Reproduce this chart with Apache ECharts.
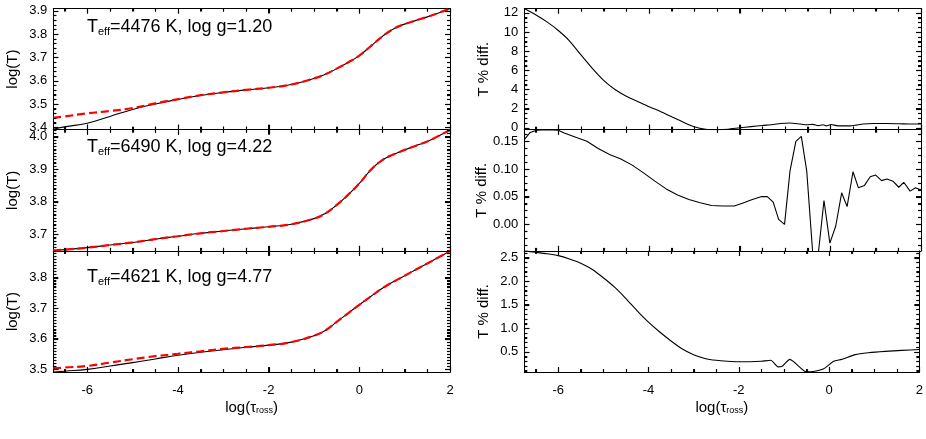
<!DOCTYPE html>
<html>
<head>
<meta charset="utf-8">
<script src="https://cdn.jsdelivr.net/npm/echarts@6/dist/echarts.min.js"></script>
<style>
  html, body { margin: 0; padding: 0; background: #fff; }
  #chart { width: 926px; height: 439px; }
</style>
</head>
<body>
<div id="chart"></div>
<script>
// log(tau_ross) grid for the left-hand log(T) panels
const tauGrid = [-6.75, -6.5, -6, -5.5, -5, -4.5, -4, -3.5, -3, -2.5, -2, -1.5, -1,
  -0.75, -0.5, -0.25, 0, 0.25, 0.5, 0.75, 1, 1.25, 1.5, 1.75, 2];

// panel 1: Teff 4476, log g 1.20
const logT1 = [3.392, 3.402, 3.418, 3.447, 3.477, 3.500, 3.520, 3.537, 3.550, 3.561, 3.570, 3.584, 3.610,
  3.628, 3.652, 3.678, 3.708, 3.748, 3.789, 3.822, 3.843, 3.859, 3.874, 3.891, 3.910];
const logT1ref = [3.441, 3.447, 3.460, 3.470, 3.483, 3.503, 3.521, 3.538, 3.550, 3.561, 3.570, 3.584, 3.610,
  3.628, 3.652, 3.678, 3.708, 3.748, 3.789, 3.822, 3.843, 3.859, 3.874, 3.891, 3.910];

// panel 2: Teff 6490, log g 4.22
const logT2 = [3.650, 3.653, 3.659, 3.667, 3.675, 3.685, 3.694, 3.703, 3.710, 3.717, 3.723, 3.731, 3.748,
  3.764, 3.790, 3.821, 3.856, 3.897, 3.927, 3.945, 3.959, 3.972, 3.985, 4.002, 4.020];
const logT2ref = [3.650, 3.653, 3.659, 3.667, 3.675, 3.685, 3.694, 3.703, 3.710, 3.717, 3.723, 3.731, 3.748,
  3.764, 3.790, 3.821, 3.856, 3.897, 3.927, 3.945, 3.959, 3.972, 3.985, 4.002, 4.020];

// panel 3: Teff 4621, log g 4.77
const logT3 = [3.491, 3.494, 3.500, 3.511, 3.522, 3.534, 3.546, 3.556, 3.564, 3.572, 3.579, 3.589, 3.610,
  3.627, 3.655, 3.683, 3.711, 3.738, 3.764, 3.786, 3.806, 3.826, 3.846, 3.866, 3.887];
const logT3ref = [3.503, 3.506, 3.511, 3.522, 3.533, 3.543, 3.551, 3.559, 3.567, 3.573, 3.579, 3.589, 3.610,
  3.627, 3.655, 3.683, 3.711, 3.738, 3.764, 3.786, 3.806, 3.826, 3.846, 3.866, 3.887];

// right-hand panels: T % diff.
const tauD1 = [-6.75, -6.5, -6.25, -6, -5.75, -5.5, -5.25, -5, -4.75, -4.5, -4.25, -4, -3.75, -3.5, -3.25,
  -3, -2.75, -2.5, -2.25, -2, -1.75, -1.5, -1.25, -1.1, -0.89, -0.67, -0.52, -0.38, -0.27, -0.16, -0.09,
  0.02, 0.13, 0.28, 0.43, 0.57, 0.72, 0.94, 1.24, 1.53, 1.83, 2];
const diff1 = [12.45, 11.8, 11.05, 10.15, 9.05, 7.6, 6.2, 4.95, 4.0, 3.3, 2.75, 2.2, 1.7, 1.15, 0.6,
  0.1, -0.15, -0.2, -0.15, 0.0, 0.12, 0.24, 0.35, 0.45, 0.50, 0.39, 0.31, 0.36, 0.23, 0.31, 0.20,
  0.34, 0.23, 0.20, 0.20, 0.28, 0.39, 0.45, 0.45, 0.42, 0.39, 0.39];

const tauD2 = [-6.75, -6.62, -6.48, -6.25, -6, -5.87, -5.63, -5.37, -5.12, -4.87, -4.62, -4.37, -4.12,
  -3.87, -3.62, -3.37, -3.12, -2.87, -2.62, -2.37, -2.12, -1.94, -1.72, -1.53, -1.39, -1.26, -1.14,
  -1.01, -0.89, -0.76, -0.64, -0.52, -0.39, -0.26, -0.14, -0.01, 0.12, 0.25, 0.37, 0.5, 0.62, 0.75,
  0.88, 1.0, 1.13, 1.25, 1.38, 1.51, 1.62, 1.76, 1.88, 2.0];
const diff2 = [0.153, 0.166, 0.170, 0.171, 0.170, 0.165, 0.158, 0.150, 0.137, 0.126, 0.118, 0.107, 0.093,
  0.078, 0.064, 0.053, 0.045, 0.039, 0.034, 0.033, 0.033, 0.038, 0.045, 0.050, 0.050, 0.040, 0.009,
  0.000, 0.096, 0.150, 0.159, 0.096, -0.050, -0.049, 0.043, -0.034, -0.003, 0.057, 0.032, 0.095, 0.066, 0.070,
  0.086, 0.089, 0.079, 0.082, 0.078, 0.067, 0.076, 0.060, 0.066, 0.062];

const tauD3 = [-6.75, -6.5, -6.25, -6, -5.75, -5.5, -5.25, -5, -4.75, -4.5, -4.25, -4, -3.75, -3.5, -3.25,
  -3, -2.75, -2.5, -2.25, -2, -1.75, -1.5, -1.29, -1.13, -1.03, -0.87, -0.52, -0.41, -0.12, 0.1, 0.28,
  0.58, 0.87, 1.24, 1.61, 2];
const diff3 = [2.64, 2.61, 2.58, 2.54, 2.47, 2.38, 2.25, 2.07, 1.87, 1.63, 1.37, 1.13, 0.92, 0.73, 0.56,
  0.44, 0.36, 0.32, 0.30, 0.29, 0.29, 0.30, 0.32, 0.18, 0.20, 0.34, 0.08, 0.075, 0.14, 0.30, 0.34,
  0.44, 0.48, 0.51, 0.53, 0.55];

// labels and ticks
const teffs = ['4476', '6490', '4621'];
const loggs = ['1.20', '4.22', '4.77'];
const xRange = [-6.75, 2];
const xTicks = [-6, -4, -2, 0, 2];
const leftRanges = [[3.39, 3.91], [3.649, 4.021], [3.491, 3.887]];
const leftTicks = [[3.4, 3.5, 3.6, 3.7, 3.8, 3.9], [3.7, 3.8, 3.9, 4.0], [3.5, 3.6, 3.7, 3.8]];
const rightRanges = [[-0.2, 12.45], [-0.048, 0.171], [0.07, 2.64]];
const rightTicks = [[0, 2, 4, 6, 8, 10, 12], [0, 0.05, 0.10, 0.15], [0.5, 1.0, 1.5, 2.0, 2.5]];

const FONT = '"Liberation Sans", Arial, Helvetica, sans-serif';
const chart = echarts.init(document.getElementById('chart'));

const colLeft = [53.3, 524.3], plotW = 396.7, plotTop = 8.5, plotH = 121.2;
const leftDecimals = [1, 1, 1], rightDecimals = [0, 2, 1];
const leftSub = [5, 10, 10], rightSub = [4, 4, 5];

function minorTicks(range, majors, sub) {
  const step = (majors[1] - majors[0]) / sub;
  const out = [];
  for (let k = Math.ceil(range[0] / step - 1e-6); k * step <= range[1] + 1e-9; k++) {
    const v = +(k * step).toFixed(6);
    if (!majors.some(m => Math.abs(m - v) < 1e-6)) out.push(v);
  }
  return out;
}

const grids = [], xAxes = [], yAxes = [], series = [], titles = [];

function frameAxis(g, pos, range, label, name) {
  const ax = {
    gridIndex: g, type: 'value', position: pos, min: range[0], max: range[1],
    splitLine: { show: false },
    axisLine: { show: true, onZero: false, lineStyle: { color: '#000', width: 1 } },
    axisTick: { show: false },
    axisLabel: { show: false }
  };
  if (label) {
    ax.axisLabel = {
      show: true, customValues: label.values, color: '#000', fontSize: 13, fontFamily: FONT,
      margin: label.margin, formatter: v => v.toFixed(label.decimals)
    };
  }
  if (name) Object.assign(ax, name);
  return ax;
}

// tick-only overlay axis (no line, no labels)
function tickAxis(g, pos, range, vals, len) {
  return {
    gridIndex: g, type: 'value', position: pos, min: range[0], max: range[1],
    splitLine: { show: false },
    axisLine: { show: false, onZero: false },
    axisTick: { show: true, inside: true, length: len, customValues: vals, lineStyle: { color: '#000' } },
    axisLabel: { show: false }
  };
}

// inward IDL-style ticks on all four sides, placed through the axes' own scale
function tickRender(params, api) {
  const cs = params.coordSys;
  const side = api.value(2);
  const len = api.value(3) ? 5 : 3;
  const p = api.coord([api.value(0), api.value(1)]);
  let x1, y1, x2, y2;
  if (side < 2) {
    x1 = x2 = Math.round(p[0]) + 0.5;
    y1 = side === 0 ? cs.y + cs.height : cs.y;
    y2 = side === 0 ? y1 - len : y1 + len;
  } else {
    y1 = y2 = Math.round(p[1]) + 0.5;
    x1 = side === 2 ? cs.x : cs.x + cs.width;
    x2 = side === 2 ? x1 + len : x1 - len;
  }
  return { type: 'line', shape: { x1: x1, y1: y1, x2: x2, y2: y2 }, style: { stroke: '#000', lineWidth: 1.2 }, silent: true };
}

const xName = {
  name: 'log(τ{s|ross})', nameLocation: 'middle', nameGap: 28,
  nameTextStyle: { color: '#000', fontSize: 15, fontFamily: FONT,
    rich: { s: { fontSize: 9, fontFamily: FONT, color: '#000', verticalAlign: 'bottom', padding: [6, 0, 0, 0] } } }
};

function panel(col, row, yRange, yTicks, decimals, sub, yTitle, lines) {
  const g = grids.length;
  grids.push({ left: colLeft[col], top: plotTop + row * plotH, width: plotW, height: plotH, containLabel: false });
  const xMinor = minorTicks(xRange, xTicks, 4);
  const yMinor = minorTicks(yRange, yTicks, sub);

  const xi = xAxes.length;
  xAxes.push(frameAxis(g, 'bottom', xRange,
    row === 2 ? { values: xTicks, decimals: 0, margin: 12 } : null, row === 2 ? xName : null));
  xAxes.push(frameAxis(g, 'top', xRange, null, null));
  ['bottom', 'top'].forEach(pos => {
    xAxes.push(tickAxis(g, pos, xRange, xTicks, 5), tickAxis(g, pos, xRange, xMinor, 3));
  });
  const yi = yAxes.length;
  yAxes.push(frameAxis(g, 'left', yRange, { values: yTicks, decimals: decimals, margin: 6 },
    { name: yTitle, nameLocation: 'middle', nameGap: 33,
      nameTextStyle: { color: '#000', fontSize: 15, fontFamily: FONT } }));
  yAxes.push(frameAxis(g, 'right', yRange, null, null));
  ['left', 'right'].forEach(pos => {
    yAxes.push(tickAxis(g, pos, yRange, yTicks, 5), tickAxis(g, pos, yRange, yMinor, 3));
  });

  lines.forEach(l => {
    series.push({
      type: 'line', xAxisIndex: xi, yAxisIndex: yi, data: l.x.map((x, i) => [x, l.y[i]]),
      showSymbol: false, symbol: 'none', smooth: l.smooth, clip: true,
      lineStyle: l.style, z: l.z
    });
  });

  const ticks = [];
  [0, 1].forEach(side => {
    xTicks.forEach(v => ticks.push([v, yRange[0], side, 1]));
    xMinor.forEach(v => ticks.push([v, yRange[0], side, 0]));
  });
  [2, 3].forEach(side => {
    yTicks.forEach(v => ticks.push([xRange[0], v, side, 1]));
    yMinor.forEach(v => ticks.push([xRange[0], v, side, 0]));
  });
  series.push({
    type: 'custom', coordinateSystem: 'cartesian2d', xAxisIndex: xi, yAxisIndex: yi,
    renderItem: tickRender, data: ticks, encode: { x: 0, y: 1 }, clip: false, silent: true, z: 5
  });
}

const blackLine = { color: '#000', width: 1.1 };
const redDash = { color: '#ff0000', width: 2.2, type: [8, 4] };

const leftData = [[logT1, logT1ref], [logT2, logT2ref], [logT3, logT3ref]];
leftData.forEach((d, r) => {
  panel(0, r, leftRanges[r], leftTicks[r], leftDecimals[r], leftSub[r], 'log(T)', [
    { x: tauGrid, y: d[0], smooth: 0.5, style: blackLine, z: 2 },
    { x: tauGrid, y: d[1], smooth: 0.5, style: redDash, z: 3 }
  ]);
});
const rightData = [[tauD1, diff1, 0.2], [tauD2, diff2, false], [tauD3, diff3, 0.2]];
rightData.forEach((d, r) => {
  panel(1, r, rightRanges[r], rightTicks[r], rightDecimals[r], rightSub[r], 'T % diff.', [
    { x: d[0], y: d[1], smooth: d[2], style: blackLine, z: 2 }
  ]);
});

const labelTops = [17, 137, 267];
teffs.forEach((t, r) => {
  titles.push({
    left: 87, top: labelTops[r], padding: 0,
    text: '{a|T}{b|eff}{a|=' + t + ' K, log g=' + loggs[r] + '}',
    textStyle: {
      fontWeight: 'normal',
      rich: {
        a: { fontSize: 18, fontFamily: FONT, fontWeight: 'normal', color: '#000', lineHeight: 20 },
        b: { fontSize: 11, fontFamily: FONT, fontWeight: 'normal', color: '#000', verticalAlign: 'bottom', lineHeight: 11, padding: [8, 0, 0, 0] }
      }
    }
  });
});

chart.setOption({
  animation: false,
  backgroundColor: '#fff',
  title: titles,
  grid: grids,
  xAxis: xAxes,
  yAxis: yAxes,
  series: series
});
</script>
</body>
</html>
